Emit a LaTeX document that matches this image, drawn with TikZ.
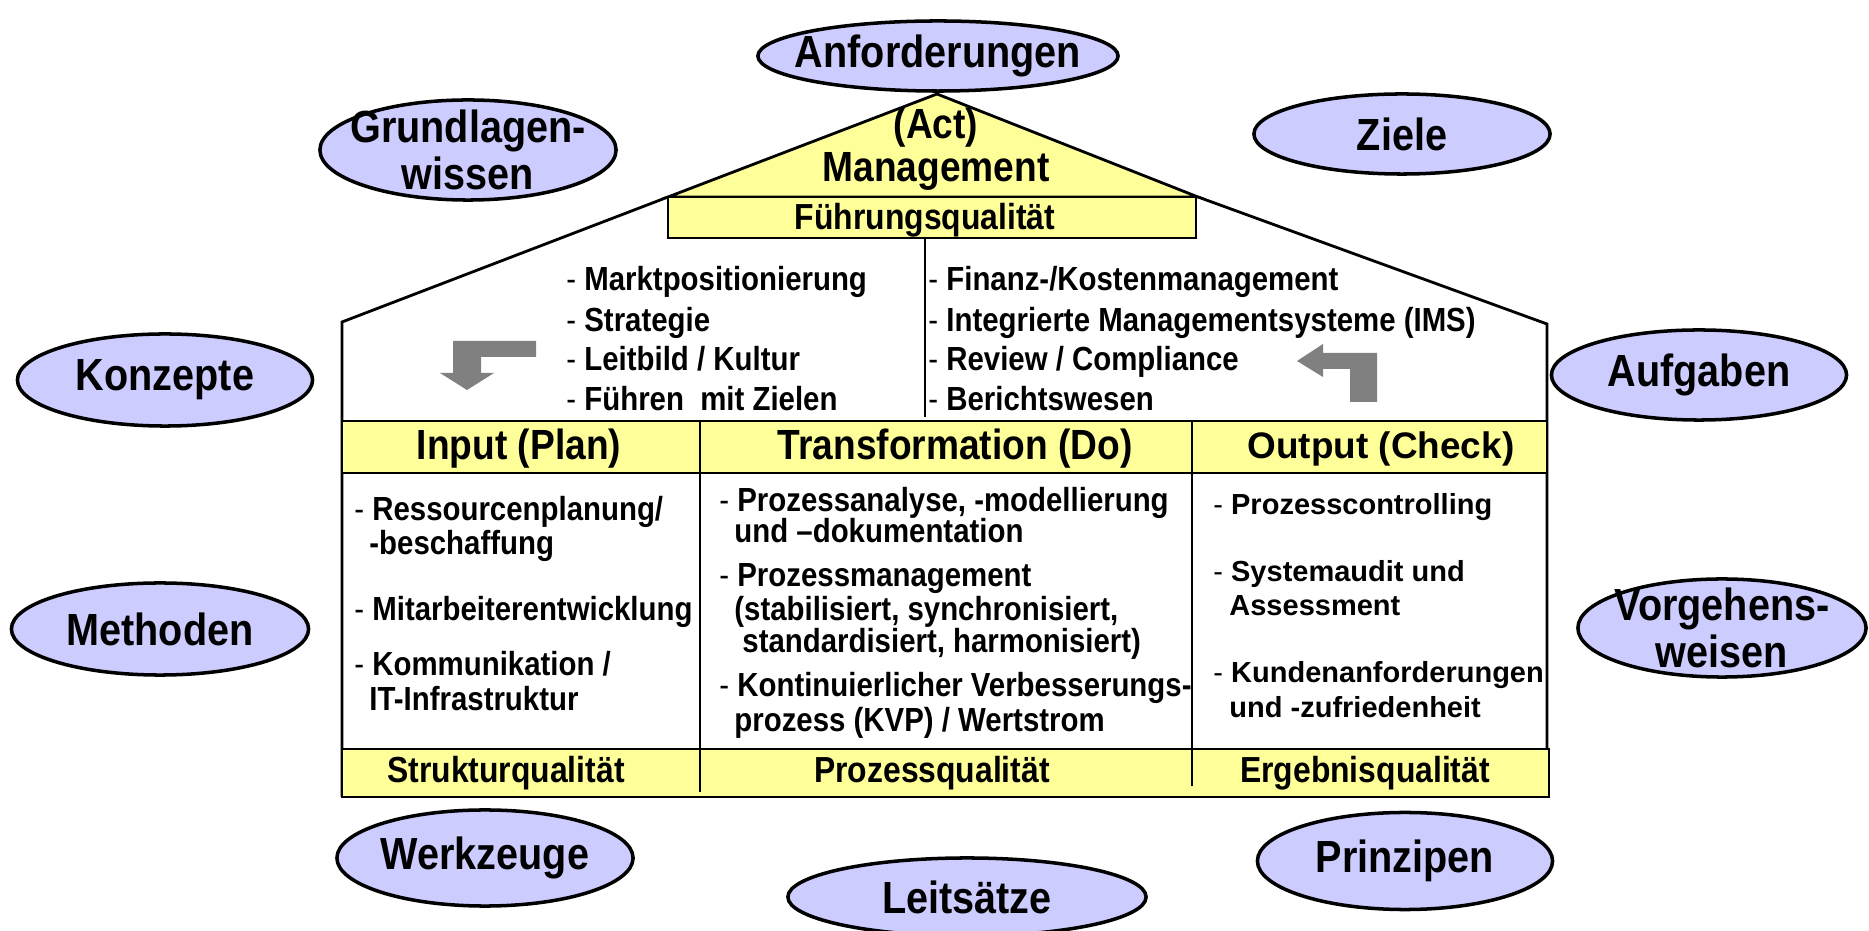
\documentclass[tikz,border=0pt]{standalone}
\usepackage{fontspec}
\setmainfont{Liberation Sans}
\newfontfamily\narrowsf{Liberation Sans}[FakeStretch=0.88]
\usetikzlibrary{shapes.geometric}

\definecolor{roofyellow}{HTML}{FFFF99}
\definecolor{ovalblue}{HTML}{CCCCFF}
\definecolor{arrowgray}{HTML}{808080}
\newcommand{\dashmark}{{\mdseries -}~}

\begin{document}
\begin{tikzpicture}[x=0.01cm, y=-0.01cm, line width=0.8pt,
	oval/.style={ellipse, draw, fill=ovalblue, inner sep=0pt, line width=1pt},
	every label/.style={font=\narrowsf\bfseries\fontsize{12.8}{13.4}\selectfont, align=center},
	big/.style={font=\narrowsf\bfseries\fontsize{12}{14}\selectfont, inner sep=0pt},
	qual/.style={font=\narrowsf\bfseries\fontsize{10.3}{12}\selectfont, inner sep=0pt},
	item/.style={anchor=base west, inner sep=0pt, font=\narrowsf\bfseries\fontsize{9.5}{11}\selectfont},
	witem/.style={anchor=base west, inner sep=0pt, font=\bfseries\fontsize{8.25}{10}\selectfont}]
\useasboundingbox (0,0) rectangle (1869,931);

% roof and walls
\draw[fill=roofyellow] (668,197) -- (937,94) -- (1198,197) -- cycle;
\draw (668,197) -- (342,322) -- (342,797);
\draw (1198,197) -- (1547,324) -- (1547,797);
\draw[fill=roofyellow] (668,197) rectangle (1196,238);
\draw (925,238) -- (925,417);
\draw[fill=roofyellow] (342,421) rectangle (1547,473);
\draw[fill=roofyellow] (342,749) rectangle (1549,797);
\draw (700,421) -- (700,792);
\draw (1192,421) -- (1192,786);

% gray arrows
\fill[arrowgray] (536,341) -- (453,341) -- (453,373) -- (440,373) -- (467,390) -- (494,373)
	-- (481,373) -- (481,357) -- (536,357) -- cycle;
\fill[arrowgray] (1297,361) -- (1323,344) -- (1323,353) -- (1377,353) -- (1377,402)
	-- (1350,402) -- (1350,369) -- (1323,369) -- (1323,377) -- cycle;

% ovals round the house
\node[oval, minimum width=3.6cm, minimum height=0.7cm, label={center:Anforderungen}] (anf) at (938,56) {};
\node[oval, minimum width=2.96cm, minimum height=1cm, label={center:Grundlagen-\\wissen}] (grund) at (468,150) {};
\node[oval, minimum width=2.96cm, minimum height=0.8cm, label={center:Ziele}] (ziele) at (1402,134) {};
\node[oval, minimum width=2.95cm, minimum height=0.92cm, label={center:Konzepte}] (konz) at (165,380) {};
\node[oval, minimum width=2.95cm, minimum height=0.9cm, label={center:Aufgaben}] (aufg) at (1699,375) {};
\node[oval, minimum width=2.97cm, minimum height=0.92cm, label={center:Methoden}] (meth) at (160,629) {};
\node[oval, minimum width=2.88cm, minimum height=0.98cm, label={center:Vorgehens-\\weisen}] (vorg) at (1722,628) {};
\node[oval, minimum width=2.96cm, minimum height=0.96cm, label={center:Werkzeuge}] (werk) at (485,858) {};
\node[oval, minimum width=3.58cm, minimum height=0.78cm, label={center:Leitsätze}] (leit) at (967,897) {};
\node[oval, minimum width=2.95cm, minimum height=0.97cm, label={center:Prinzipen}] (prinz) at (1405,861) {};

% roof texts
\node[big] (act) at (936,128) {(Act)};
\node[big] (mgmt) at (936,171) {Management};
\node[qual] (fuehr) at (925,220) {Führungsqualität};
\foreach \y/\t [count=\i] in {291/{Marktpositionierung}, 332/{Strategie}, 371/{Leitbild / Kultur}, 411/{Führen~ mit Zielen}}
	\node[item] (ml\i) at (565,\y) {\dashmark\t};
\foreach \y/\t [count=\i] in {291/{Finanz-/Kostenmanagement}, 332/{Integrierte Managementsysteme (IMS)}, 371/{Review / Compliance}, 411/{Berichtswesen}}
	\node[item] (mr\i) at (927,\y) {\dashmark\t};

% header row
\node[big] (plan) at (519,449) {Input (Plan)};
\node[big] (do) at (955,449) {Transformation (Do)};
\node[font=\bfseries\fontsize{10.5}{12}\selectfont, inner sep=0pt] (check) at (1381,449) {Output (Check)};

% columns
\foreach \x/\y/\t [count=\i] in {353/521/{\dashmark Ressourcenplanung/}, 368/555/{-beschaffung},
	353/621/{\dashmark Mitarbeiterentwicklung}, 353/676/{\dashmark Kommunikation /}, 368/711/{IT-Infrastruktur}}
	\node[item] (pl\i) at (\x,\y) {\t};
\foreach \x/\y/\t [count=\i] in {718/512/{\dashmark Prozessanalyse, -modellierung}, 733/543/{und –dokumentation},
	718/587/{\dashmark Prozessmanagement}, 733/621/{(stabilisiert, synchronisiert,}, 741/653/{standardisiert, harmonisiert)},
	718/697/{\dashmark Kontinuierlicher Verbesserungs-}, 733/732/{prozess (KVP) / Wertstrom}}
	\node[item] (do\i) at (\x,\y) {\t};
\foreach \x/\y/\t [count=\i] in {1212/515/{\dashmark Prozesscontrolling}, 1212/582/{\dashmark Systemaudit und},
	1228/616/{Assessment}, 1212/683/{\dashmark Kundenanforderungen}, 1228/718/{und -zufriedenheit}}
	\node[witem] (ch\i) at (\x,\y) {\t};

% bottom row
\node[qual] (struktur) at (506,773) {Strukturqualität};
\node[qual] (prozess) at (932,773) {Prozessqualität};
\node[qual] (ergebnis) at (1365,773) {Ergebnisqualität};
\end{tikzpicture}
\end{document}
